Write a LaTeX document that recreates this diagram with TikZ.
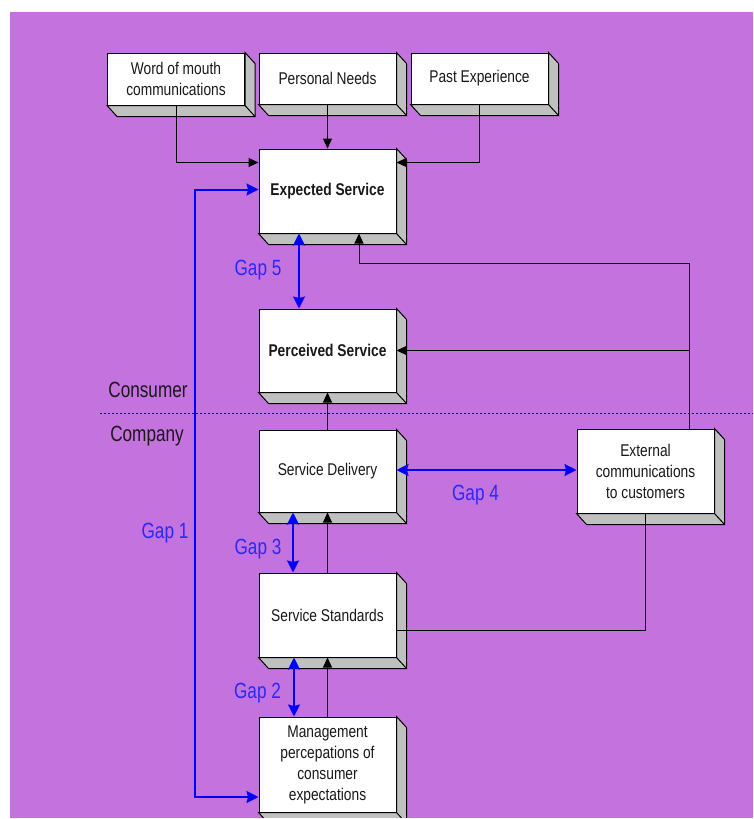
\documentclass[tikz,border=0pt]{standalone}
\usepackage{fontspec}
\setmainfont{Liberation Sans}
\newfontfamily\bxf{Liberation Sans}[FakeStretch=0.81]
\newfontfamily\lbf{Liberation Sans}[FakeStretch=0.78]
\usetikzlibrary{arrows.meta,calc}
\definecolor{bgpurple}{RGB}{196,114,222}
\definecolor{extgray}{RGB}{192,192,192}
\definecolor{gapblue}{RGB}{40,40,255}
\definecolor{txt}{RGB}{25,25,25}
\tikzset{
  box/.style={draw=black, line width=1pt, fill=white, inner sep=0pt,
    minimum width=137pt, align=center,
    font=\bxf\fontsize{17}{21}\selectfont, text=txt},
  conn/.style={draw=black, line width=1pt, -{Triangle[length=10pt,width=9pt]}},
  plainconn/.style={draw=black, line width=1pt},
  gaparr/.style={draw=blue, line width=2pt,
    {Stealth[length=12pt,width=12pt,inset=1.5pt]}-{Stealth[length=12pt,width=12pt,inset=1.5pt]}},
  gaplab/.style={font=\lbf\fontsize{22}{24}\selectfont, text=gapblue, anchor=base, inner sep=0pt},
  sidelab/.style={font=\lbf\fontsize{22}{24}\selectfont, text=txt, anchor=base, inner sep=0pt},
  divider/.style={draw=black, line width=1pt, dash pattern=on 2pt off 2pt},
}
\newcommand\extr[1]{%
  \filldraw[fill=extgray,draw=black,line width=1pt,line join=miter]
    (#1.south west) -- ($(#1.south west)+(10,11)$) -- ($(#1.south east)+(10,11)$)
    -- ($(#1.north east)+(10,11)$) -- (#1.north east) -- (#1.south east) -- cycle;
  \draw[black,line width=1pt] (#1.south east) -- ($(#1.south east)+(10,11)$);}
\begin{document}
\begin{tikzpicture}[x=1pt,y=-1pt]
\useasboundingbox (0,0) rectangle (753,819);
\clip (0,0) rectangle (753,819);
\fill[white] (0,0) rectangle (753,819);
\fill[bgpurple] (10,12) rectangle (753,818);

% boxes
\node[box, minimum height=52pt] (wom) at (176,79) {Word of mouth\\communications};
\node[box, minimum height=51pt] (pn) at (327.5,78.5) {Personal Needs};
\node[box, minimum height=51pt] (pe) at (479.5,78.5) {Past Experience};
\node[box, minimum height=84pt] (es) at (327.5,191) {\bfseries Expected Service};
\node[box, minimum height=83pt] (ps) at (327.5,350.5) {\bfseries Perceived Service};
\node[box, minimum height=82pt] (sd) at (327.5,471) {Service Delivery};
\node[box, minimum height=84pt] (ss) at (327.5,615) {Service Standards};
\node[box, minimum height=95pt] (mp) at (327.5,764.5) {Management\\percepations of\\consumer\\expectations};
\node[box, minimum height=84pt] (ec) at (645.5,471) {External\\communications\\to customers};

\extr{wom}\extr{pn}\extr{pe}\extr{es}\extr{ps}\extr{sd}\extr{ss}\extr{mp}\extr{ec}

% divider
\coordinate (dl) at (100,413);
\coordinate (dr) at (753,413);
\draw[divider] (dl) -- (dr);

% black connectors
\draw[conn] (wom.south) |- ($(es.north west)+(0,14)$);
\draw[conn] (pn.south) -- (es.north);
\draw[conn] (pe.south) |- ($(es.north east)+(0,14)$);
\coordinate (ectop) at ($(ec.north east)+(-25,0)$);
\draw[conn] (ectop) |- ($(es.south)+(31.5,30)$) -- ($(es.south)+(31.5,0)$);
\draw[conn] (ectop |- ps.east) -- (ps.east);
\draw[conn] (sd.north) -- (ps.south);
\draw[conn] (ss.north) -- (sd.south);
\draw[conn] (mp.north) -- (ss.south);
\draw[plainconn] (ec.south) |- ($(ss.east)+(0,15)$);

% gap arrows
\coordinate (g1) at (195,480);
\draw[gaparr] ($(es.west)+(0,-1.5)$) -| (g1) |- ($(mp.west)+(0,32.5)$);
\draw[gaparr] ($(es.south)+(-28.5,0)$) -- ($(ps.north)+(-28.5,0)$);
\draw[gaparr] ($(sd.south)+(-34.5,0)$) -- ($(ss.north)+(-34.5,0)$);
\draw[gaparr] ($(ss.south)+(-33.5,0)$) -- ($(mp.north)+(-33.5,0)$);
\draw[gaparr] ($(sd.east)+(0,-1)$) -- ($(ec.west)+(0,-1)$);

% labels
\node[sidelab] (lcons) at (148,397) {Consumer};
\node[sidelab] (lcomp) at (147,441) {Company};
\node[gaplab] (lg1) at (165,538) {Gap 1};
\node[gaplab] (lg5) at (258,275) {Gap 5};
\node[gaplab] (lg3) at (258,554) {Gap 3};
\node[gaplab] (lg2) at (257.5,698) {Gap 2};
\node[gaplab] (lg4) at (475.5,500) {Gap 4};

\fill[white] (0,818) rectangle (753,819);
\end{tikzpicture}
\end{document}
